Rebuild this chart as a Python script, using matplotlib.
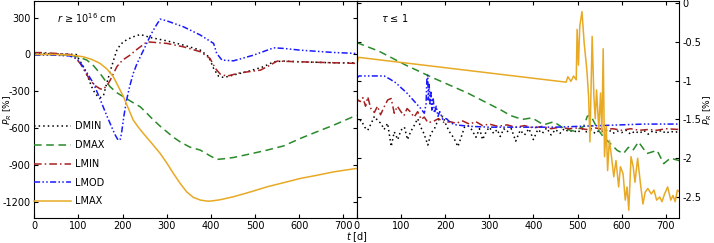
import matplotlib
matplotlib.use("Agg")

import matplotlib.pyplot as plt

plt.rcParams["axes.unicode_minus"] = False
plt.rcParams["font.size"] = 7

# ---------------------------------------------------------------------------
# Left panel: r >= 1e16 cm  (P_R in %)
# ---------------------------------------------------------------------------
dmin_t = [0, 20, 60, 95, 111, 122, 130, 138, 145, 150, 157, 164, 170, 175, 181, 187, 195, 202,
          212, 224, 240, 262, 300, 338, 376, 395, 406, 417, 429, 451, 489, 519, 542, 565, 602, 678, 730]
dmin_v = [5, 8, 3, 0, -100, -190, -264, -320, -345, -352, -330, -236, -160, -100, -30, 35, 80, 103,
          125, 144, 163, 139, 111, 76, 35, -19, -114, -177, -188, -168, -133, -100, -60, -54, -60, -68, -68]

dmax_t = [0, 40, 80, 100, 119, 135, 149, 160, 172, 186, 202, 220, 240, 255, 270, 285, 300, 315,
          330, 352, 376, 395, 413, 430, 451, 490, 527, 565, 602, 640, 678, 730]
dmax_v = [0, 0, -5, -20, -46, -95, -155, -210, -264, -310, -345, -385, -427, -480, -535, -585, -630, -675,
          -712, -755, -780, -820, -856, -850, -840, -810, -780, -745, -685, -630, -576, -495]

lmin_t = [0, 20, 50, 80, 95, 104, 115, 126, 138, 149, 155, 160, 166, 172, 180, 187, 195, 202,
          217, 230, 240, 255, 300, 338, 376, 398, 410, 421, 436, 466, 512, 534, 550, 602, 730]
lmin_v = [15, 15, 8, 0, -35, -73, -140, -209, -255, -280, -285, -270, -245, -209, -150, -100, -65, -41,
          -5, 35, 62, 103, 90, 62, 22, -33, -114, -160, -177, -150, -128, -87, -54, -60, -73]

lmod_t = [0, 40, 80, 96, 111, 122, 134, 145, 156, 166, 175, 183, 190, 195, 198, 203, 209, 216,
          224, 232, 240, 250, 258, 266, 274, 285, 300, 338, 376, 406, 413, 425, 451, 497, 542, 565,
          602, 678, 730]
lmod_v = [-5, -5, -12, -33, -100, -165, -236, -330, -427, -515, -590, -655, -700, -690, -630, -500, -372, -260,
          -155, -80, -19, 55, 117, 175, 225, 288, 274, 225, 158, 90, 8, -46, -52, -5, 54, 49,
          35, 16, 8]

lmax_t = [0, 40, 70, 90, 111, 130, 149, 165, 179, 190, 202, 213, 224, 236, 247, 265, 285, 300,
          315, 330, 345, 360, 376, 390, 398, 420, 451, 490, 527, 565, 602, 640, 678, 730]
lmax_v = [0, 0, -3, -8, -19, -40, -73, -120, -182, -260, -345, -440, -535, -595, -644, -720, -807, -885,
          -970, -1050, -1120, -1165, -1187, -1195, -1196, -1185, -1160, -1120, -1079, -1045, -1011, -985, -957, -929]

# ---------------------------------------------------------------------------
# Right panel: tau <= 1  (P_R in %)
# ---------------------------------------------------------------------------
dmin2_t = [0, 4, 10, 18, 25, 33, 40, 48, 55, 62, 70, 78, 85, 93, 100, 108, 115, 122, 130, 138,
           145, 152, 161, 168, 176, 184, 195, 203, 210, 220, 229, 237, 244, 252, 260, 270, 278, 285,
           293, 300, 310, 318, 325, 333, 340, 350, 360, 370, 380, 390, 400, 410, 420, 430, 440, 450,
           460, 470, 480, 490, 500, 510, 520, 530, 540, 550, 560, 570, 580, 590, 600, 610, 620, 630,
           640, 650, 660, 670, 680, 690, 700, 710, 720, 730]
dmin2_v = [-1.50, -1.53, -1.51, -1.60, -1.64, -1.55, -1.46, -1.52, -1.55, -1.63, -1.55, -1.85, -1.66,
           -1.76, -1.64, -1.60, -1.76, -1.66, -1.58, -1.49, -1.60, -1.68, -1.83, -1.68, -1.62, -1.51,
           -1.46, -1.58, -1.66, -1.74, -1.85, -1.72, -1.60, -1.58, -1.63, -1.73, -1.62, -1.76, -1.66,
           -1.60, -1.68, -1.63, -1.72, -1.62, -1.66, -1.62, -1.78, -1.64, -1.70, -1.62, -1.76, -1.63,
           -1.68, -1.61, -1.70, -1.63, -1.68, -1.62, -1.66, -1.64, -1.67, -1.62, -1.66, -1.64, -1.68,
           -1.64, -1.66, -1.63, -1.68, -1.65, -1.67, -1.64, -1.69, -1.65, -1.68, -1.64, -1.69, -1.65,
           -1.67, -1.64, -1.68, -1.65, -1.67, -1.65]

dmax2_t = [0, 50, 111, 175, 251, 327, 348, 375, 397, 423, 446, 470, 491, 514, 522, 529, 545, 559,
           574, 590, 604, 615, 625, 638, 657, 668, 680, 695, 710, 730]
dmax2_v = [-0.51, -0.62, -0.80, -0.97, -1.16, -1.38, -1.45, -1.50, -1.48, -1.57, -1.53, -1.62, -1.65,
           -1.59, -1.46, -1.44, -1.62, -1.73, -1.81, -1.90, -1.94, -1.86, -1.90, -1.79, -1.94, -1.92,
           -1.90, -2.07, -2.00, -2.03]

lmin2_t = [0, 3, 8, 14, 20, 25, 32, 40, 47, 54, 62, 70, 78, 85, 92, 100, 107, 114, 121, 130, 138,
           146, 153, 161, 172, 185, 198, 212, 225, 240, 255, 270, 285, 300, 320, 340, 360, 380, 400,
           420, 440, 460, 480, 500, 520, 540, 560, 580, 600, 620, 640, 660, 680, 700, 730]
lmin2_v = [-1.30, -1.25, -1.27, -1.22, -1.33, -1.21, -1.36, -1.41, -1.33, -1.44, -1.34, -1.25, -1.23,
           -1.42, -1.33, -1.40, -1.45, -1.36, -1.40, -1.47, -1.40, -1.50, -1.47, -1.54, -1.53, -1.49,
           -1.54, -1.53, -1.55, -1.52, -1.56, -1.53, -1.58, -1.56, -1.59, -1.57, -1.60, -1.58, -1.61,
           -1.59, -1.62, -1.60, -1.62, -1.61, -1.63, -1.61, -1.63, -1.62, -1.64, -1.62, -1.64, -1.63,
           -1.64, -1.62, -1.63]

lmod2_t = [0, 5, 62, 75, 89, 100, 112, 123, 134, 145, 153, 157, 159, 161, 162, 164, 166, 168, 170,
           173, 176, 180, 184, 188, 195, 203, 214, 225, 240, 260, 300, 350, 400, 450, 500, 550, 600,
           650, 700, 730]
lmod2_v = [-0.97, -0.94, -0.94, -0.98, -1.03, -1.09, -1.15, -1.22, -1.29, -1.36, -1.42, -1.30, -0.96,
           -0.93, -1.25, -1.05, -1.30, -1.15, -1.38, -1.22, -1.42, -1.33, -1.46, -1.40, -1.50, -1.49,
           -1.55, -1.57, -1.58, -1.59, -1.60, -1.60, -1.60, -1.60, -1.59, -1.58, -1.57, -1.56, -1.56,
           -1.56]

lmax2_t = [0, 4, 474, 478, 485, 491, 497, 499, 502, 505, 510, 515, 521, 525, 528, 533, 537, 540,
           543, 548, 552, 555, 558, 561, 565, 568, 572, 576, 582, 587, 593, 597, 603, 608, 612, 616,
           621, 626, 630, 636, 642, 648, 653, 659, 667, 673, 679, 686, 691, 697, 704, 711, 716, 721,
           726, 730]
lmax2_v = [-0.80, -0.70, -1.02, -0.95, -1.01, -0.94, -0.99, -0.34, -0.80, -0.30, -0.11, -0.52, -0.86,
           -1.21, -1.79, -0.43, -1.21, -1.49, -1.12, -1.62, -1.16, -1.68, -0.59, -1.98, -1.59, -2.16,
           -1.77, -1.94, -2.24, -2.03, -2.37, -2.11, -2.20, -2.54, -2.37, -2.67, -1.98, -2.11, -2.31,
           -2.00, -2.31, -2.59, -2.44, -2.39, -2.46, -2.41, -2.54, -2.50, -2.56, -2.46, -2.37, -2.54,
           -2.48, -2.56, -2.41, -2.43]

labels = ["DMIN", "DMAX", "LMIN", "LMOD", "LMAX"]
left_yticks = [300, 0, -300, -600, -900, -1200]
right_yticks = [0, -0.5, -1, -1.5, -2, -2.5]
right_yticklabels = ["0", "-0.5", "-1", "-1.5", "-2", "-2.5"]
xticks = [0, 100, 200, 300, 400, 500, 600, 700]

# styles
colors = ["black", "#2a8a2a", "#a52020", "#1a1aff", "#e8a925"]
styles = [(0, (1, 2)), (0, (5, 3)), (0, (5, 2, 1, 2)), (0, (4, 1.5, 1, 1.5, 1, 1.5)), "-"]
lw = 1.1

fig = plt.figure(figsize=(7.14, 2.43), dpi=100)
axL = fig.add_axes([0.048, 0.103, 0.4516, 0.891])
axR = fig.add_axes([0.4996, 0.103, 0.4516, 0.891])

left_series = [(dmin_t, dmin_v), (dmax_t, dmax_v), (lmin_t, lmin_v), (lmod_t, lmod_v), (lmax_t, lmax_v)]
right_series = [(dmin2_t, dmin2_v), (dmax2_t, dmax2_v), (lmin2_t, lmin2_v), (lmod2_t, lmod2_v),
                (lmax2_t, lmax2_v)]

for (t, v), c, ls, lab in zip(left_series, colors, styles, labels):
    axL.plot(t, v, color=c, ls=ls, lw=lw, label=lab)
for (t, v), c, ls in zip(right_series, colors, styles):
    axR.plot(t, v, color=c, ls=ls, lw=lw)

# ── Left axes ────────────────────────────────────────────────────────────────
axL.set_xlim(0, 730)
axL.set_ylim(-1333, 432)
axL.set_xticks(xticks)
axL.set_yticks(left_yticks)
axL.tick_params(direction="in", top=True, right=True, length=3, pad=2.5)
axL.set_ylabel("$P_R$ [%]", fontsize=6.6)
axL.yaxis.set_label_coords(-0.062, 0.5)
axL.text(0.07, 0.925, r"$r$ ≥ 10$^{16}$ cm", transform=axL.transAxes, va="center")
axL.legend(loc="lower left", bbox_to_anchor=(0.0, 0.053), frameon=False, borderaxespad=0,
           borderpad=0, handlelength=3.8, handletextpad=0.35, labelspacing=0.9)

# ── Right axes ───────────────────────────────────────────────────────────────
axR.set_xlim(0, 730)
axR.set_ylim(-2.77, 0.02)
axR.set_xticks(xticks)
axR.set_yticks(right_yticks)
axR.set_yticklabels(right_yticklabels)
axR.yaxis.tick_right()
axR.yaxis.set_label_position("right")
axR.tick_params(direction="in", top=True, left=True, right=True, length=3, pad=2.5)
axR.set_ylabel("$P_R$ [%]", fontsize=6.6)
axR.yaxis.set_label_coords(1.07, 0.5)
axR.text(0.074, 0.925, r"$\tau$ ≤ 1", transform=axR.transAxes, va="center")

fig.text(0.5, 0.024, "$t$ [d]", ha="center", va="center")

fig.savefig("out.png", dpi=100)
